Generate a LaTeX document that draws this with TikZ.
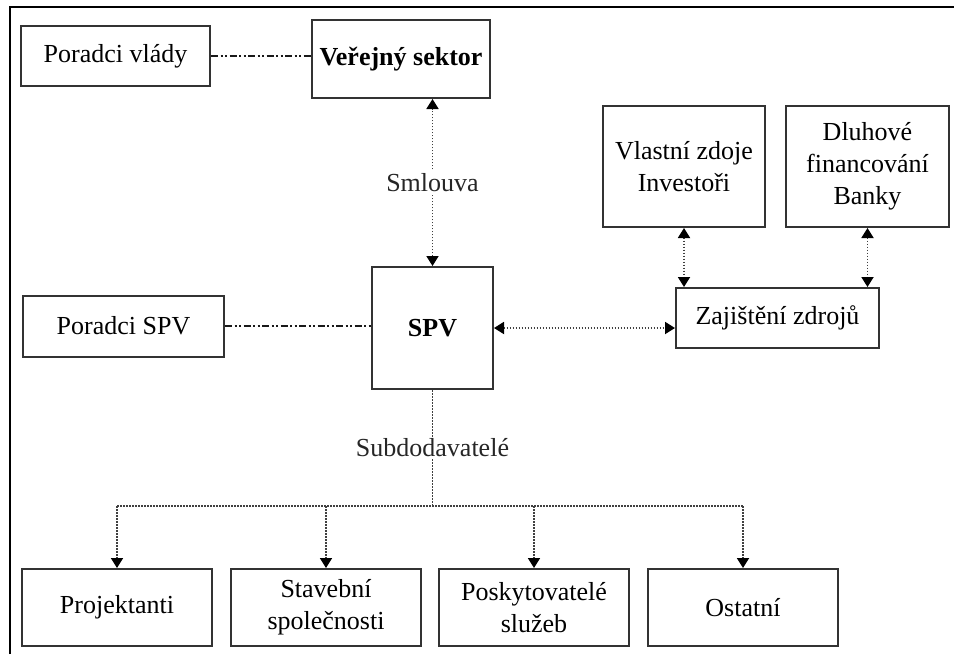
\documentclass[tikz,border=0pt]{standalone}
\usepackage{fontspec}
\setmainfont{Liberation Serif}
\usetikzlibrary{arrows.meta}

\tikzset{
  box/.style={draw=black!80, line width=2pt, inner sep=0pt, align=center,
    font=\fontsize{26}{32}\selectfont, fill=white},
  link/.style={draw=black!75, line width=1.8pt, dash pattern=on 1.8pt off 1.2pt,
    arrows={Triangle[width=12pt,length=10pt,black]-Triangle[width=12pt,length=10pt,black]}},
  feed/.style={draw=black!75, line width=1.8pt, dash pattern=on 1.8pt off 1.2pt,
    -{Triangle[width=12pt,length=10pt,black]}},
  bus/.style={draw=black!75, line width=1.8pt, dash pattern=on 1.8pt off 1.2pt},
  advice/.style={draw=black!90, line width=2pt,
    dash pattern=on 7pt off 2.5pt on 2pt off 2.5pt on 2pt off 2.5pt},
  tag/.style={fill=white, inner sep=2pt, text=black!85,
    font=\fontsize{26}{32}\selectfont}
}

\begin{document}
\begin{tikzpicture}[x=1pt,y=-1pt]
  \useasboundingbox (0,0) rectangle (954,654);

  % page edge lines
  \draw[line width=2pt] (10,654) -- (10,7) -- (954,7);

  % upper row
  \node[box, minimum width=189pt, minimum height=60pt] (pv) at (115.5,56) {Poradci vlády};
  \node[box, minimum width=178pt, minimum height=78pt, font=\fontsize{26}{32}\selectfont\bfseries] (vs) at (401,59) {Veřejný sektor};

  % financing sources
  \node[box, minimum width=162pt, minimum height=121pt] (vz) at (684,166.5) {Vlastní zdoje\\Investoři};
  \node[box, minimum width=163pt, minimum height=121pt] (df) at (867.5,166.5) {Dluhové\\financování\\Banky};

  % middle row
  \node[box, minimum width=201pt, minimum height=61pt] (psp) at (123.5,326) {Poradci SPV};
  \node[box, minimum width=121pt, minimum height=122pt, font=\fontsize{26}{32}\selectfont\bfseries] (spv) at (432.5,328) {SPV};
  \node[box, minimum width=203pt, minimum height=60pt] (zz) at (777.5,318) {Zajištění zdrojů};

  % subcontractors
  \node[box, minimum width=190pt, minimum height=77pt] (proj) at (117,607.5) {Projektanti};
  \node[box, minimum width=190pt, minimum height=77pt] (stav) at (326,607.5) {Stavební\\společnosti};
  \node[box, minimum width=190pt, minimum height=77pt] (posk) at (534,607.5) {Poskytovatelé\\služeb};
  \node[box, minimum width=190pt, minimum height=77pt] (ost) at (743,607.5) {Ostatní};

  \coordinate (busc) at (432.5,506);

  % advisory links
  \draw[advice] (pv.east) -- (pv.east -| vs.west);
  \draw[advice] (psp.east) -- (psp.east -| spv.west);

  % contract and financing links
  \draw[link] (spv.north) -- node[tag]{Smlouva} (spv.north |- vs.south);
  \draw[link] (spv.east) -- (spv.east -| zz.west);
  \draw[link] (vz.south) -- (vz.south |- zz.north);
  \draw[link] (df.south) -- (df.south |- zz.north);

  % subcontractor tree
  \draw[bus] (spv.south) -- node[tag]{Subdodavatelé} (busc);
  \draw[bus] (proj.north |- busc) -- (ost.north |- busc);
  \foreach \n in {proj,stav,posk,ost}
    \draw[feed] (\n.north |- busc) -- (\n.north);
\end{tikzpicture}
\end{document}
